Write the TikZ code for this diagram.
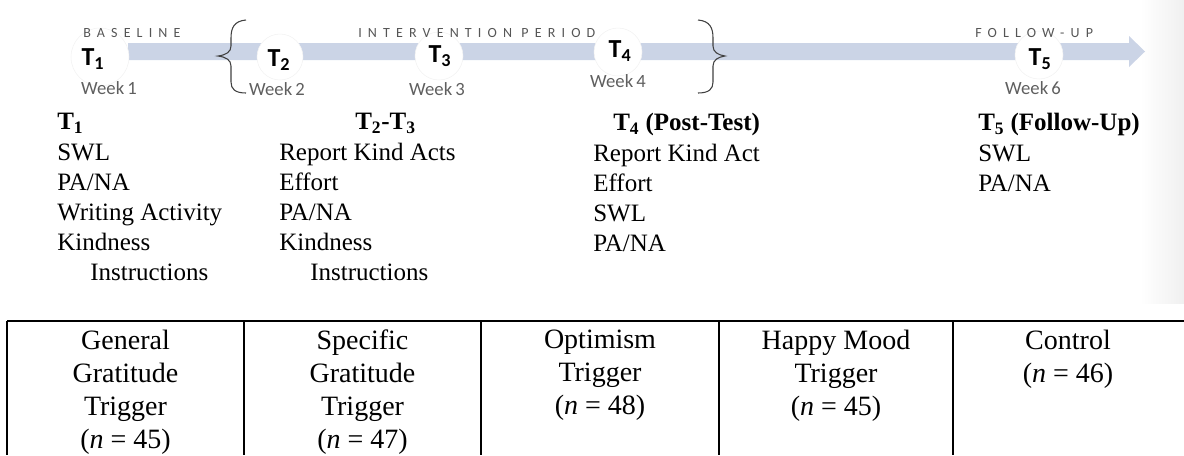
\documentclass[tikz,border=0pt]{standalone}
\usepackage{fontspec}
\setmainfont{Liberation Serif}
\newfontfamily\calibri{Carlito}
\newfontfamily\spacedcaps[LetterSpace=44]{Carlito}
\usetikzlibrary{positioning}
\definecolor{bandBlue}{RGB}{203,212,230}
\definecolor{labelGray}{RGB}{85,85,85}
\definecolor{weekGray}{RGB}{95,95,95}
\tikzset{
  phaseTag/.style={anchor=west,inner sep=0pt,text=labelGray,
                   font=\spacedcaps\fontsize{10.5}{12}\selectfont},
  timeMark/.style={circle,fill=white,draw=black!5,minimum size=#1,inner sep=0pt},
  timeLbl/.style={inner sep=0pt,font=\calibri\bfseries\fontsize{19.5}{22}\selectfont},
  weekLbl/.style={inner sep=0pt,text=weekGray,font=\calibri\fontsize{14}{16}\selectfont},
  braceLine/.style={line width=0.8pt,black!75},
  measList/.style={anchor=north west,inner sep=0pt,align=left,
                   font=\fontsize{18.75}{22.5}\selectfont},
  groupCell/.style={anchor=north,inner sep=0pt,align=center,
                    font=\fontsize{21}{24.75}\selectfont},
  ruleLine/.style={line width=1.2pt},
}

\begin{document}
\begin{tikzpicture}[x=0.75pt,y=-0.75pt]
  \useasboundingbox (0,0) rectangle (1184,455);
  \shade[left color=white,right color=black!6] (1140,0) rectangle (1184,303);
  % timeline band
  \fill[bandBlue] (128,43) -- (1129,43) -- (1129,36) -- (1145,51.5)
                  -- (1129,67) -- (1129,60) -- (128,60) -- cycle;
  \foreach \i/\cx/\cy/\d/\tx/\ty/\wx/\wy/\wk in
     {1/100/57/58/93/59/109/88/1, 2/280/57/46/279/60/277/89/2,
      3/439/56/48/440/56/437/89/3, 4/618/52/48/620/51/618/81/4,
      5/1039/55/48/1040/59/1033/88/6}{
    \node[timeMark={\d*0.75pt}] (c\i) at (\cx,\cy) {};
    \node[timeLbl] (t\i) at (\tx,\ty) {T\textsubscript{\i}};
    \node[weekLbl] (w\i) at (\wx,\wy) {Week\,\wk};
  }
  \node[phaseTag] (base) at (83,33) {BASELINE};
  \node[phaseTag] (interv) at (358,33) {INTERVENTION\hspace{7pt}PERIOD};
  \node[phaseTag] (follow) at (975,33) {FOLLOW-UP};
  \draw[braceLine] (246,20) .. controls (234,21) and (231,28) .. (231,38) -- (231,46)
    .. controls (231,52) and (226,55) .. (218,56) .. controls (226,57) and (231,60) .. (231,66)
    -- (231,82) .. controls (231,89) and (235,93) .. (246,93);
  \draw[braceLine] (698,20) .. controls (710,21) and (713,28) .. (713,38) -- (713,46)
    .. controls (713,52) and (718,55) .. (725,56) .. controls (718,57) and (713,60) .. (713,66)
    -- (713,82) .. controls (713,89) and (709,93) .. (698,93);
  % measures per time point
  \node[measList] (m1) at (57,113) {\textbf{T\textsubscript{1}}\\[1pt]SWL\\PA/NA\\
    Writing Activity\\Kindness\\\hspace*{24.75pt}Instructions};
  \node[measList] (m2) at (279,113) {\hspace*{57pt}\textbf{T\textsubscript{2}-T\textsubscript{3}}\\[1pt]
    Report Kind Acts\\Effort\\PA/NA\\Kindness\\\hspace*{23.25pt}Instructions};
  \node[measList] (m3) at (593,113) {\hspace*{15pt}\textbf{T\textsubscript{4} (Post-Test)}\\[1pt]
    Report Kind Act\\Effort\\SWL\\PA/NA};
  \node[measList] (m4) at (978,113) {\textbf{T\textsubscript{5} (Follow-Up)}\\[1pt]SWL\\PA/NA};
  % condition table
  \draw[ruleLine] (7,321) -- (1184,321);
  \foreach \x in {7,244,481,719,953}{\draw[ruleLine] (\x,321) -- (\x,455);}
  \node[groupCell] (g1) at (125.5,330) {General\\Gratitude\\Trigger\\(\textit{n} = 45)};
  \node[groupCell] (g2) at (362.5,330) {Specific\\Gratitude\\Trigger\\(\textit{n} = 47)};
  \node[groupCell] (g3) at (600,330) {Optimism\\Trigger\\(\textit{n} = 48)};
  \node[groupCell] (g4) at (836,330) {Happy Mood\\Trigger\\(\textit{n} = 45)};
  \node[groupCell] (g5) at (1068,330) {Control\\(\textit{n} = 46)};
\end{tikzpicture}
\end{document}
